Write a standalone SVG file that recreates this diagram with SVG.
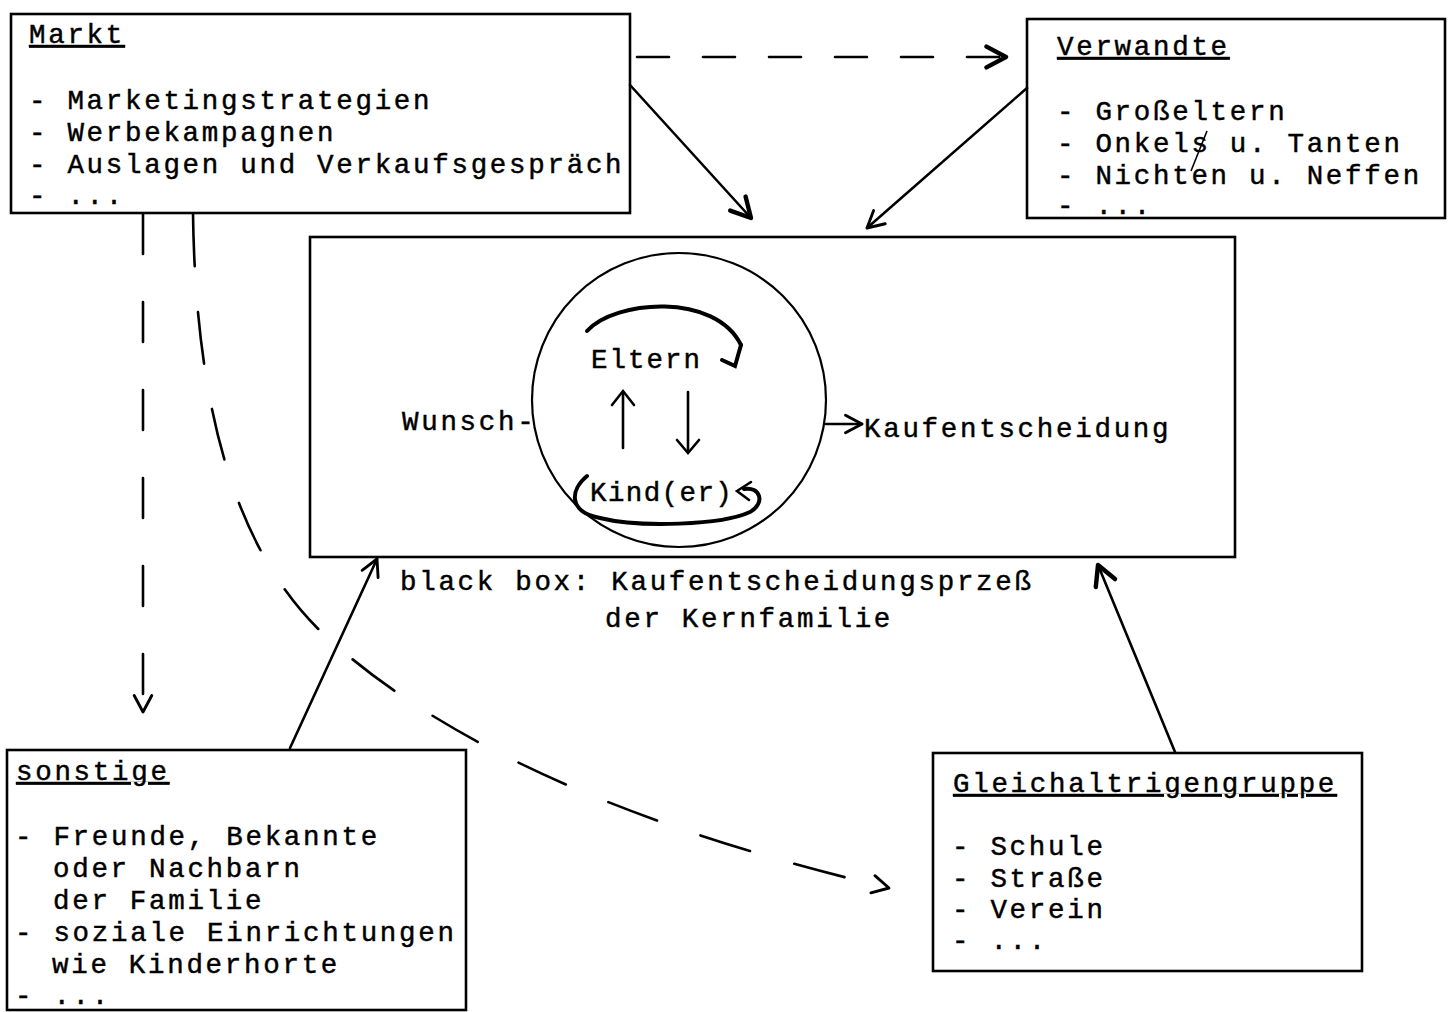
<svg xmlns="http://www.w3.org/2000/svg" width="1456" height="1012" viewBox="0 0 1456 1012">
<style>
.bg{fill:#fff}
.box{fill:none;stroke:#000;stroke-width:2.6}
.t{font-family:"Liberation Mono","Courier New",monospace;font-size:27.5px;letter-spacing:2.7px;fill:#000;stroke:#000;stroke-width:0.45}
.h{text-decoration:underline}
.c{fill:none;stroke:#000;stroke-width:2.6;stroke-linecap:round}
.bold{stroke-width:4}
.d1{stroke-dasharray:32 34}
.d2{stroke-dasharray:40 48}
.d3{stroke-dasharray:52 46}
</style>
<defs>
<marker id="ah" viewBox="0 0 20 20" refX="18" refY="10" markerWidth="22" markerHeight="22" markerUnits="userSpaceOnUse" orient="auto">
<path d="M3,2 L18,10 L3,18" fill="none" stroke="#000" stroke-width="2.6" stroke-linecap="round" stroke-linejoin="round"/>
</marker>
<marker id="ahb" viewBox="0 0 20 20" refX="18" refY="10" markerWidth="26" markerHeight="26" markerUnits="userSpaceOnUse" orient="auto">
<path d="M3,2 L18,10 L3,18" fill="none" stroke="#000" stroke-width="3.4" stroke-linecap="round" stroke-linejoin="round"/>
</marker>
</defs>
<rect class="bg" x="0" y="0" width="1456" height="1012"/>

<g id="connectors">
<path class="c d1" d="M637,57 L1006,57" marker-end="url(#ahb)"/>
<path class="c" d="M630,85 L751,218" marker-end="url(#ahb)"/>
<path class="c" d="M1027,88 L867,228" marker-end="url(#ah)"/>
<path class="c d2" d="M143,214 L143,712" marker-end="url(#ah)"/>
<path class="c d3" d="M193,214 C196,420 240,560 330,640 C430,730 600,820 889,888" marker-end="url(#ah)"/>
<path class="c" d="M290,748 L377,559" marker-end="url(#ah)"/>
<path class="c" d="M1175,752 L1098,565" marker-end="url(#ahb)"/>
<path class="c" d="M826,424 L862,424" marker-end="url(#ah)"/>
</g>

<g id="markt">
<rect class="box" x="11" y="14" width="619" height="199"/>
<text class="t h" x="29" y="43">Markt</text>
<text class="t" x="29" y="109">- Marketingstrategien</text>
<text class="t" x="29" y="141">- Werbekampagnen</text>
<text class="t" x="29" y="173">- Auslagen und Verkaufsgespräch</text>
<text class="t" x="29" y="204">- ...</text>
</g>

<g id="verwandte">
<rect class="box" x="1027" y="19" width="418" height="199"/>
<text class="t h" x="1057" y="55">Verwandte</text>
<text class="t" x="1057" y="120">- Großeltern</text>
<text class="t" x="1057" y="152">- Onkels u. Tanten</text>
<text class="t" x="1057" y="184">- Nichten u. Neffen</text>
<text class="t" x="1057" y="214">- ...</text>
<path d="M1207,131 L1191,171" fill="none" stroke="#000" stroke-width="1.6"/>
</g>

<g id="blackbox">
<rect class="box" x="310" y="237" width="925" height="320"/>
<circle cx="679" cy="400" r="147" fill="none" stroke="#000" stroke-width="2.2"/>
<text class="t" x="402" y="430">Wunsch-</text>
<text class="t" x="864" y="437">Kaufentscheidung</text>
<text class="t" x="591" y="368" style="letter-spacing:2px">Eltern</text>
<text class="t" x="590" y="501" style="letter-spacing:1.4px">Kind(er)</text>
<path class="c bold" d="M587,331 C615,300 715,292 741,345"/>
<path class="c bold" d="M741,345 L735,366 L722,360"/>
<path class="c" d="M623,448 L623,392"/>
<path class="c" d="M612,405 L623,391 L634,405"/>
<path class="c" d="M688,392 L688,452"/>
<path class="c" d="M677,440 L688,453 L699,440"/>
<path class="c bold" d="M587,476 C570,490 568,512 600,518 C640,528 722,525 750,512 C766,503 760,486 744,489"/>
<path class="c" d="M751,482 L737,491 L749,500"/>
<text class="t" x="400" y="590">black box: Kaufentscheidungsprzeß</text>
<text class="t" x="605" y="627">der Kernfamilie</text>
</g>

<g id="sonstige">
<rect class="box" x="7" y="750" width="459" height="260"/>
<text class="t h" x="16" y="780">sonstige</text>
<text class="t" x="15" y="845">- Freunde, Bekannte</text>
<text class="t" x="53" y="877">oder Nachbarn</text>
<text class="t" x="53" y="909">der Familie</text>
<text class="t" x="15" y="941">- soziale Einrichtungen</text>
<text class="t" x="52" y="973">wie Kinderhorte</text>
<text class="t" x="15" y="1004">- ...</text>
</g>

<g id="gleichaltrigengruppe">
<rect class="box" x="933" y="753" width="429" height="218"/>
<text class="t h" x="953" y="792">Gleichaltrigengruppe</text>
<text class="t" x="952" y="855">- Schule</text>
<text class="t" x="952" y="887">- Straße</text>
<text class="t" x="952" y="918">- Verein</text>
<text class="t" x="952" y="949">- ...</text>
</g>
</svg>
